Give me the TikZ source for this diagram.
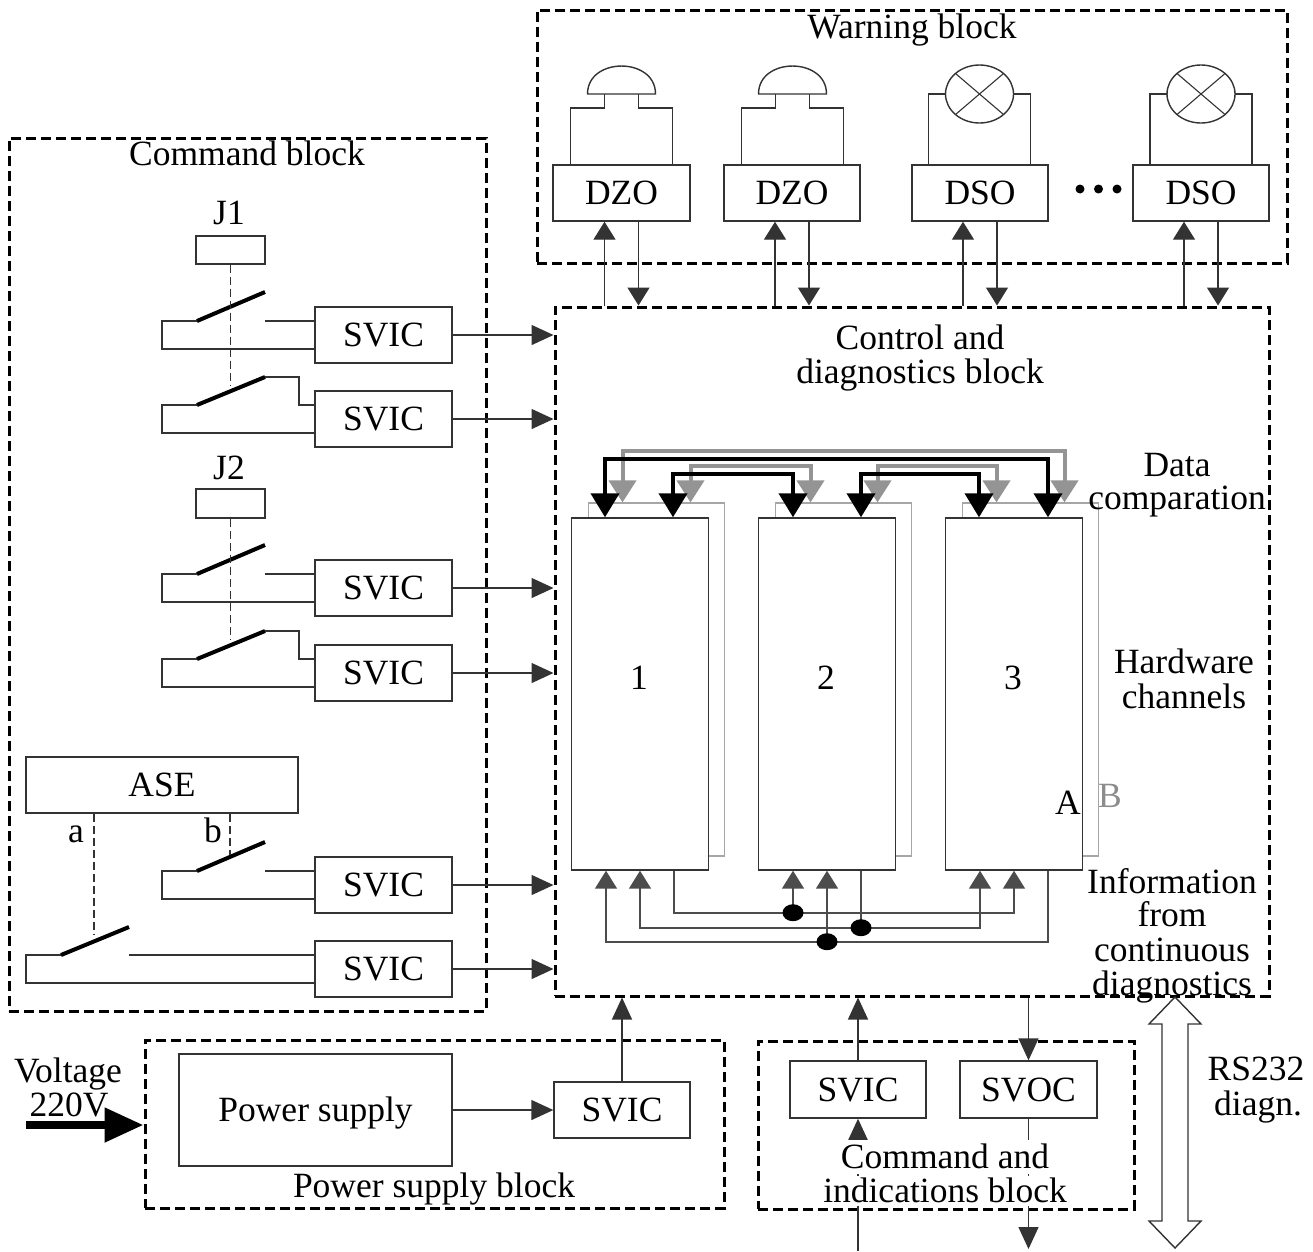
\documentclass[tikz,border=0pt]{standalone}
\usepackage{fontspec}
\setmainfont{Liberation Serif}
\usetikzlibrary{arrows.meta,calc}
\begin{document}
\begin{tikzpicture}[x=1pt,y=-1pt,
  font=\fontsize{35.5}{34.5}\selectfont,
  ln/.style={draw=black!80,line width=1.4pt},
  blk/.style={draw=black,line width=3pt,dash pattern=on 10pt off 5pt,rectangle,inner sep=0pt},
  box/.style={ln,rectangle,inner sep=0pt,fill=white,text height=23.5pt,text depth=0pt},
  lbl/.style={inner sep=0pt,text height=23.5pt,text depth=0pt},
  arr/.style={ln,-{Triangle[length=22pt,width=20pt]}},
  uarr/.style={ln,-{Triangle[length=18pt,width=22pt]}},
  link/.style={draw=black!80,line width=1.6pt,dash pattern=on 8pt off 4pt},
  blade/.style={draw=black,line width=4pt},
  bk/.style={draw=black,line width=4pt,{Triangle[length=24pt,width=28pt]}-{Triangle[length=24pt,width=28pt]}},
  gy/.style={draw=black!42,line width=4pt,{Triangle[length=22pt,width=27pt]}-{Triangle[length=22pt,width=27pt]}},
  gl/.style={draw=black!70,line width=1.6pt},
  tri/.tip={Triangle[length=18pt,width=22pt]},
  dot/.style={fill=black}
  ]
\useasboundingbox (0,0) rectangle (1313,1251);

% ---------- blocks
\node[blk,minimum width=750,minimum height=253] (warn) at (912,136.5) {};
\node[blk,minimum width=477,minimum height=873] (cmd) at (247.5,574.5) {};
\node[blk,minimum width=714,minimum height=689] (ctrl) at (912,651.5) {};
\node[blk,minimum width=579,minimum height=168] (pwr) at (434.5,1124) {};
\node[blk,minimum width=376,minimum height=168] (cmdind) at (946,1125) {};

\node[lbl] (twarn) at (912,27) {Warning block};
\node[lbl] (tcmd) at (247,154) {Command block};
\node[lbl] (tctrl1) at (920,338) {Control and};
\node[lbl] (tctrl2) at (920,372) {diagnostics block};

% ---------- warning block
\node[box,minimum width=137,minimum height=56] (dzo1) at (621.5,193) {DZO};
\node[box,minimum width=136,minimum height=56] (dzo2) at (792,193) {DZO};
\node[box,minimum width=136,minimum height=56] (dso1) at (980,193) {DSO};
\node[box,minimum width=136,minimum height=56] (dso2) at (1201,193) {DSO};

\foreach \c in {621.5,792.5}{
  \draw[ln] ({\c-51},165) -- ({\c-51},108) -- ({\c-17},108) -- ({\c-17},94);
  \draw[ln] ({\c+51},165) -- ({\c+51},108) -- ({\c+17},108) -- ({\c+17},94);
  \draw[ln] ({\c-34},94) -- ({\c+34},94) .. controls ({\c+34},56.7) and ({\c-34},56.7) .. ({\c-34},94) -- cycle;
}
\foreach \c in {979.5,1201}{
  \draw[ln] ({\c-51},165) -- ({\c-51},94) -- ({\c-34},94);
  \draw[ln] ({\c+51},165) -- ({\c+51},94) -- ({\c+34},94);
  \draw[ln] (\c,94) ellipse [x radius=34, y radius=29];
  \draw[ln,line width=1.1pt] ({\c-24},{94-20.5}) -- ({\c+24},{94+20.5});
  \draw[ln,line width=1.1pt] ({\c-24},{94+20.5}) -- ({\c+24},{94-20.5});
}
\foreach \x in {1080,1098.5,1117}{ \fill (\x,189) circle (4.5); }

\foreach \n in {dzo1,dzo2,dso1,dso2}{
  \coordinate (\n-u) at ([xshift=-17pt]\n.south);
  \coordinate (\n-d) at ([xshift=17pt]\n.south);
  \draw[uarr] (\n-u |- ctrl.north) -- (\n-u);
  \draw[uarr] (\n-d) -- (\n-d |- ctrl.north);
}

% ---------- command block
\node[lbl] (j1l) at (229,213) {J1};
\node[box,minimum width=69,minimum height=28] (j1) at (230.5,250) {};
\node[lbl] (j2l) at (229,468) {J2};
\node[box,minimum width=69,minimum height=29] (j2) at (230.5,503.5) {};
\node[box,minimum width=272,minimum height=56] (ase) at (162,785) {ASE};

\foreach \i/\y in {1/335,2/419,3/588,4/673,5/885,6/969}{
  \node[box,minimum width=137,minimum height=56] (svic\i) at (383.5,\y) {SVIC};
  \draw[arr] (svic\i.east) -- (svic\i.east -| ctrl.west);
}
% normally open contacts
\foreach \i/\y in {1/335,3/588,5/885}{
  \draw[ln] ($(svic\i.west)+(0,14)$) -| (162,{\y-14}) -- (197,{\y-14});
  \draw[blade] (197,{\y-14}) -- (265,{\y-43});
  \draw[ln] (265,{\y-14}) -- ($(svic\i.west)+(0,-14)$);
}
% second contacts
\foreach \i/\y in {2/419,4/673}{
  \draw[ln] ($(svic\i.west)+(0,14)$) -| (162,{\y-14}) -- (197,{\y-14});
  \draw[blade] (197,{\y-14}) -- (265,{\y-42});
  \draw[ln] (265,{\y-42}) -- (299,{\y-42}) -- (299,{\y-14}) -- ($(svic\i.west)+(0,-14)$);
}
% contact a
\draw[ln] ($(svic6.west)+(0,14)$) -| (26,955) -- (61,955);
\draw[blade] (61,955) -- (129,927);
\draw[ln] (129,955) -- ($(svic6.west)+(0,-14)$);

% mechanical links
\coordinate (j1e) at (230.5,385);
\coordinate (j2e) at (230.5,639);
\coordinate (ae) at (94,935);
\coordinate (be) at (230,855);
\draw[link] (j1.south) -- (j1e);
\draw[link] (j2.south) -- (j2e);
\draw[link] (ae |- ase.south) -- (ae);
\draw[link] (be |- ase.south) -- (be);
\node[lbl] (la) at (76,831) {a};
\node[lbl] (lb) at (213,831) {b};

% ---------- channels
\node[draw=black!35,line width=1.2pt,minimum width=136,minimum height=353,inner sep=0pt] (ch1b) at (656.5,679.5) {};
\node[draw=black!35,line width=1.2pt,minimum width=136,minimum height=353,inner sep=0pt] (ch2b) at (843.5,679.5) {};
\node[draw=black!35,line width=1.2pt,minimum width=136,minimum height=353,inner sep=0pt] (ch3b) at (1030.5,679.5) {};
\node[box,minimum width=137,minimum height=352] (ch1a) at (640,694) {};
\node[box,minimum width=137,minimum height=352] (ch2a) at (827,694) {};
\node[box,minimum width=137,minimum height=352] (ch3a) at (1014,694) {};
\node[lbl] (n1) at (639,678) {1};
\node[lbl] (n2) at (826,678) {2};
\node[lbl] (n3) at (1013,678) {3};
\node[lbl] (la2) at (1068,803) {A};
\node[lbl,text=black!45] (lb2) at (1110,796) {B};

% data comparison
\draw[gy] ($(ch1b.north)+(-34,0)$) -- ++(0,-51) -| ($(ch3b.north)+(34,0)$);
\draw[gy] ($(ch1b.north)+(34,0)$) -- ++(0,-36) -| ($(ch2b.north)+(-33,0)$);
\draw[gy] ($(ch2b.north)+(34,0)$) -- ++(0,-36) -| ($(ch3b.north)+(-34,0)$);
\draw[bk] ($(ch1a.north)+(-35,0)$) -- ++(0,-58) -| ($(ch3a.north)+(34,0)$);
\draw[bk] ($(ch1a.north)+(33,0)$) -- ++(0,-43) -| ($(ch2a.north)+(-34,0)$);
\draw[bk] ($(ch2a.north)+(34,0)$) -- ++(0,-43) -| ($(ch3a.north)+(-35,0)$);

% continuous diagnostics
\draw[gl,-tri] ($(ch1a.south)+(34,0)$) -- ++(0,42) -| (ch3a.south);
\coordinate (d1) at ($(ch2a.south)+(-34,42)$);
\draw[gl,-tri] (d1) -- ($(ch2a.south)+(-34,0)$);
\draw[gl,tri-tri] (ch1a.south) -- ++(0,57) -| ($(ch3a.south)+(-34,0)$);
\coordinate (d2) at ($(ch2a.south)+(34,57)$);
\draw[gl] ($(ch2a.south)+(34,0)$) -- (d2);
\draw[gl,tri-] ($(ch1a.south)+(-34,0)$) -- ++(0,71) -| ($(ch3a.south)+(34,0)$);
\coordinate (d3) at ($(ch2a.south)+(0,71)$);
\draw[gl,-tri] (d3) -- (ch2a.south);
\foreach \d in {d1,d2,d3}{ \fill (\d) ellipse [x radius=10.5, y radius=8.5]; }

% right labels
\node[lbl] at (1177,465) {Data};
\node[lbl] at (1177,498) {comparation};
\node[lbl] at (1184,662) {Hardware};
\node[lbl] at (1184,697) {channels};
\node[lbl] at (1172,882) {Information};
\node[lbl] at (1172,915) {from};
\node[lbl] at (1172,950) {continuous};
\node[lbl] at (1172,984) {diagnostics};

% ---------- power supply block
\node[box,minimum width=273,minimum height=112] (psu) at (315.5,1110) {Power supply};
\node[box,minimum width=136,minimum height=56] (svicp) at (622,1110) {SVIC};
\draw[arr] (psu.east) -- (svicp.west);
\draw[arr] (svicp.north) -- (svicp.north |- ctrl.south);
\node[lbl] (tpwr) at (434,1186) {Power supply block};
\node[lbl] (tv1) at (68,1071) {Voltage};
\node[lbl] (tv2) at (69,1105) {220V};
\coordinate (vin) at (26,1125);
\draw[line width=8pt,-{Triangle[length=39pt,width=33pt]}] (vin) -- (vin -| pwr.west);

% ---------- command and indications block
\node[box,minimum width=136,minimum height=57] (svicc) at (858,1089.5) {SVIC};
\node[box,minimum width=137,minimum height=57] (svoc) at (1028.5,1089.5) {SVOC};
\draw[arr] (svicc.north) -- (svicc.north |- ctrl.south);
\draw[arr] (svoc.north |- ctrl.south) -- (svoc.north);
\coordinate (cin) at (858,1251);
\draw[arr] (cin) -- (svicc.south);
\coordinate (cout) at (1028.5,1249);
\draw[arr] (svoc.south) -- (cout);
\node[lbl,fill=white,inner ysep=5pt] (tci1) at (945,1157) {Command and};
\node[lbl,fill=white,inner ysep=3pt] (tci2) at (945,1191) {indications block};

% RS232
\draw[ln,fill=white] (1175,997) -- (1201,1024) -- (1188,1024) -- (1188,1221) -- (1201,1221) -- (1175,1248) -- (1149,1221) -- (1162,1221) -- (1162,1024) -- (1149,1024) -- cycle;
\node[lbl] (trs1) at (1256,1069) {RS232};
\node[lbl] (trs2) at (1258,1104) {diagn.};
\end{tikzpicture}
\end{document}
